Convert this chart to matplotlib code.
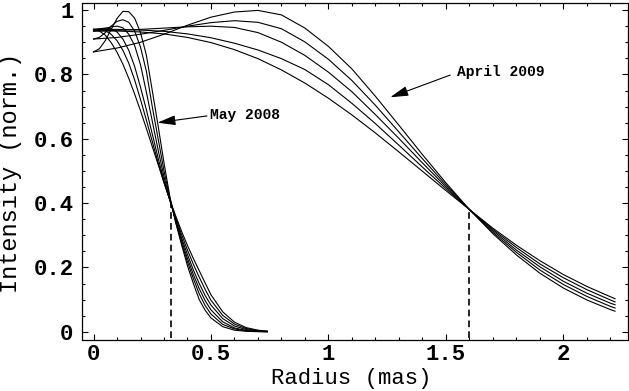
import matplotlib
matplotlib.use("Agg")
import matplotlib.pyplot as plt
from matplotlib.ticker import MultipleLocator

plt.rcParams["font.family"] = ["Liberation Mono", "DejaVu Sans Mono"]
plt.rcParams["font.weight"] = "bold"

# May 2008 profiles (radius in mas, normalised intensity)
may_r = [0.0, 0.025, 0.05, 0.075, 0.1, 0.125, 0.15, 0.175, 0.2, 0.225, 0.25,
         0.275, 0.3, 0.325, 0.35, 0.375, 0.4, 0.425, 0.45, 0.475, 0.5,
         0.55, 0.6, 0.65, 0.7, 0.74]
may_1 = [0.870, 0.880, 0.905, 0.940, 0.974, 0.996, 0.995, 0.975, 0.930, 0.860, 0.750,
         0.640, 0.525, 0.420, 0.340, 0.270, 0.205, 0.150, 0.100, 0.067, 0.043,
         0.016, 0.005, 0.0015, 0.0004, 0.0001]
may_2 = [0.910, 0.915, 0.930, 0.950, 0.965, 0.970, 0.962, 0.935, 0.885, 0.810, 0.700,
         0.600, 0.500, 0.415, 0.340, 0.275, 0.217, 0.165, 0.118, 0.082, 0.055,
         0.023, 0.009, 0.003, 0.001, 0.0003]
may_3 = [0.935, 0.938, 0.943, 0.948, 0.950, 0.945, 0.925, 0.890, 0.830, 0.745, 0.655,
         0.565, 0.482, 0.412, 0.345, 0.283, 0.228, 0.178, 0.134, 0.097, 0.068,
         0.031, 0.012, 0.004, 0.0015, 0.0005]
may_4 = [0.940, 0.942, 0.944, 0.942, 0.932, 0.910, 0.875, 0.825, 0.760, 0.690, 0.615,
         0.540, 0.470, 0.408, 0.350, 0.292, 0.240, 0.192, 0.150, 0.113, 0.083,
         0.041, 0.018, 0.007, 0.0025, 0.001]
may_5 = [0.940, 0.940, 0.936, 0.925, 0.905, 0.875, 0.835, 0.783, 0.722, 0.658, 0.592,
         0.526, 0.464, 0.409, 0.355, 0.302, 0.254, 0.210, 0.170, 0.132, 0.098,
         0.051, 0.024, 0.010, 0.004, 0.0015]
may_6 = [0.940, 0.935, 0.922, 0.899, 0.869, 0.832, 0.788, 0.739, 0.687, 0.632, 0.576,
         0.520, 0.464, 0.410, 0.360, 0.312, 0.268, 0.228, 0.190, 0.152, 0.115,
         0.062, 0.030, 0.013, 0.005, 0.002]

# April 2009 profiles
apr_r = [0.0, 0.1, 0.2, 0.3, 0.4, 0.5, 0.6, 0.7, 0.8, 0.9, 1.0, 1.1, 1.2,
         1.3, 1.4, 1.5, 1.6, 1.7, 1.8, 1.9, 2.0, 2.1, 2.2, 2.22]
apr_1 = [0.870, 0.882, 0.900, 0.925, 0.953, 0.978, 0.994, 0.999, 0.985, 0.944, 0.887, 0.817, 0.732,
         0.642, 0.551, 0.463, 0.380, 0.305, 0.239, 0.182, 0.136, 0.099, 0.069, 0.064]
apr_2 = [0.910, 0.915, 0.925, 0.937, 0.950, 0.961, 0.967, 0.962, 0.942, 0.901, 0.847, 0.781, 0.704,
         0.621, 0.538, 0.457, 0.380, 0.309, 0.247, 0.192, 0.147, 0.110, 0.079, 0.074]
apr_3 = [0.935, 0.937, 0.940, 0.944, 0.948, 0.950, 0.946, 0.930, 0.900, 0.859, 0.807, 0.746, 0.675,
         0.601, 0.525, 0.451, 0.380, 0.314, 0.254, 0.202, 0.157, 0.120, 0.089, 0.084]
apr_4 = [0.940, 0.940, 0.938, 0.934, 0.926, 0.914, 0.897, 0.876, 0.849, 0.815, 0.768, 0.710, 0.647,
         0.580, 0.512, 0.445, 0.380, 0.318, 0.262, 0.211, 0.168, 0.131, 0.099, 0.093]
apr_5 = [0.935, 0.935, 0.932, 0.926, 0.915, 0.899, 0.877, 0.849, 0.814, 0.773, 0.726, 0.674, 0.618,
         0.559, 0.499, 0.439, 0.380, 0.322, 0.269, 0.221, 0.178, 0.141, 0.109, 0.103]

may_curves = [may_1, may_2, may_3, may_4, may_5, may_6]
apr_curves = [apr_1, apr_2, apr_3, apr_4, apr_5]

# radius where each family crosses, and the intensity there
cross_r = [0.33, 1.6]
cross_i = [0.40, 0.38]

fig = plt.figure(figsize=(6.29, 3.91), dpi=100)
ax = fig.add_axes([0.130, 0.130, 0.8684, 0.8623])

for ys in may_curves:
    ax.plot(may_r, ys, color="black", lw=0.8)
for ys in apr_curves:
    ax.plot(apr_r, ys, color="black", lw=0.8)

ax.vlines(cross_r, -0.02, cross_i, colors="black", lw=1.2, linestyles=(0, (4, 2.5)))

arrow = dict(arrowstyle="-|>,head_length=1.1,head_width=0.3", color="black",
             lw=0.8, shrinkA=0, shrinkB=0, mutation_scale=10)
ax.annotate("", xy=(0.272, 0.650), xytext=(0.483, 0.671), arrowprops=arrow)
ax.text(0.497, 0.674, "May 2008", fontsize=10.5, ha="left", va="center")
ax.annotate("", xy=(1.263, 0.729), xytext=(1.518, 0.798), arrowprops=arrow)
ax.text(1.546, 0.808, "April 2009", fontsize=10.5, ha="left", va="center")

ax.set_xlim(-0.05, 2.275)
ax.set_ylim(-0.026, 1.022)
ax.xaxis.set_minor_locator(MultipleLocator(0.1))
ax.yaxis.set_minor_locator(MultipleLocator(0.05))
ax.set_xticks([0, 0.5, 1, 1.5, 2])
ax.set_xticklabels(["0", "0.5", "1", "1.5", "2"])
ax.set_yticks([0, 0.2, 0.4, 0.6, 0.8, 1])
ax.set_yticklabels(["0", "0.2", "0.4", "0.6", "0.8", "1"])
ax.tick_params(which="both", direction="in", top=True, right=True, width=0.8,
               labelsize=16)
ax.tick_params(which="major", length=4)
ax.tick_params(which="minor", length=2.2)
ax.tick_params(axis="x", pad=3)
ax.tick_params(axis="y", pad=6)
for s in ax.spines.values():
    s.set_linewidth(0.9)

ax.set_xlabel("Radius (mas)", fontsize=16, va="center")
ax.xaxis.set_label_coords(0.493, -0.113)
ax.set_ylabel("Intensity (norm.)", fontsize=17, ha="center", va="center")
ax.yaxis.set_label_coords(-0.131, 0.497)

fig.savefig("out.png", dpi=100)
